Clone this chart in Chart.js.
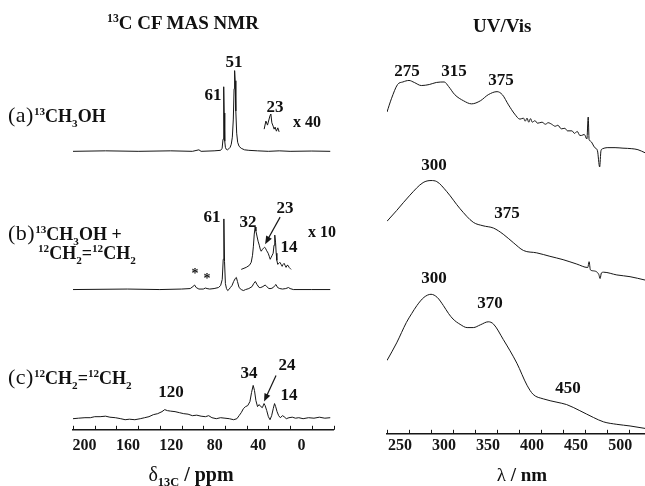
<!DOCTYPE html>
<html>
<head>
<meta charset="utf-8">
<script src="https://cdn.jsdelivr.net/npm/chart.js@4.4.1/dist/chart.umd.min.js"></script>
<style>
  html, body { margin: 0; padding: 0; background: #fff; }
  #fig { position: relative; width: 645px; height: 486px; overflow: hidden;
         font-family: "Liberation Serif", "Times New Roman", serif; color: #111; }
  #fig canvas { position: absolute; top: 0; }
  .t { position: absolute; white-space: nowrap; line-height: 1; font-weight: bold; }
  .t sup, .t sub { font-size: 0.62em; line-height: 0; }
  .t .r { font-weight: normal; }
</style>
</head>
<body>
<div id="fig">
  <canvas id="nmr" width="345" height="486" style="left:0"></canvas>
  <canvas id="uv" width="300" height="486" style="left:345px"></canvas>
</div>
<script>
// 13C CF MAS NMR spectra, [ppm, intensity a.u.]
const nmrA = [[200,0],[170,0.5],[140,0],[110,0.5],[90,0],[84,1.5],[82,0],[70,0.5],[64,1],[62.6,3],[61.8,12],[61.3,40],[61,64],[60.7,38],[60.2,10],[59.6,4],[58.8,2],[57.5,1.5],[56.5,2.5],[55.2,4],[54.2,7],[53.2,14],[52.3,32],[51.6,62],[51.1,80],[50.6,70],[50,40],[49.2,18],[48.3,9],[47,5],[45,3],[42,1.5],[38,1],[30,0.5],[20,0],[10,0.5],[0,0],[-20,0.3],[-37,0]];
const nmrA40 = [[23.9,2],[22.3,10],[20.8,6],[18.6,15],[17.7,17],[16.8,8.3],[15.6,5],[14.7,2],[13.8,4],[12.6,0],[11.3,3.3],[10.1,-0.7]];
const nmrB = [[200,0],[150,0.5],[120,0],[100,0.5],[92,1],[89.5,3],[88,4.5],[86.5,2],[84,0.5],[80,0.5],[78,1.5],[76.5,1],[74,0.5],[70,1],[66,2],[64,4],[62.5,10],[61.6,30],[61,70],[60.4,28],[59.6,6],[58.6,1],[57.5,-1],[56.4,0],[55,2],[53.5,4],[52,8],[50.5,11],[49.5,12],[48.5,8],[47,2],[45,0],[43,-1],[41,0],[38,1],[35,3],[33.5,6],[32,8],[30.5,5],[28.5,2],[27,2],[25,3],[23,4.5],[21.5,3],[19.5,1],[17.5,1],[15.5,2],[14,4],[13,5],[11.5,2],[9.5,1],[7,0.5],[4,1],[1.5,2],[0,1],[-3,0],[-20,0],[-37,0]];
const nmrB10 = [[45,0],[40.4,2],[37.5,4],[35.8,7],[34.6,14],[33.8,23],[33,35],[32.2,42],[31.5,38],[30.5,33],[29.5,28],[28.4,24],[27.5,20],[26.6,18],[25.4,20],[24.5,21],[23.5,22],[22.7,21],[21.8,19],[20.2,16],[19.2,13],[18.3,10],[17.4,12],[16.5,14],[15.6,16],[14.8,24],[14.3,30],[13.9,34],[13.4,27],[12.8,16],[12.2,9],[11.4,5],[10.3,6],[9.4,7],[8.3,5],[7.3,3],[6.4,5],[5.5,6],[4.6,4],[3.7,2],[2.8,4],[1.9,4],[0.9,2],[0,1],[-0.9,0]];
const nmrC = [[200,0],[195,0.5],[189,1],[184,1],[180,2],[175,2],[170,2.5],[166,1.5],[161,1],[156,0],[152,-1],[148,-0.5],[143,-1],[138,0],[134,1],[130,2],[126,4],[122,5],[118,7],[115.5,9],[113,8],[110,7.5],[106,7],[102,6],[98,5],[94,4.5],[90,3],[86,3.5],[82,2.5],[78,2],[75,3],[72,1],[68,0],[64,1],[60,0.5],[56,0],[52,-1],[49,0],[47,3],[45,6],[43,10],[41,12],[39,13],[37,17],[35.5,26],[34,33],[32.8,28],[31.5,18],[30,12],[28.5,14],[27,12],[25.5,11],[24,15],[23,13],[21.5,8],[20,2],[18.5,-1],[17,3],[15.5,10],[14.3,15],[13.3,12],[12,7],[10.5,3],[9,1],[7,3],[5.5,2],[3.5,0],[1,1],[-2,1.5],[-5,0.5],[-8,1],[-12,0],[-17,1],[-22,0.5],[-27,1.5],[-32,0.5],[-37,1]];

// UV/Vis spectra, [nm, absorbance a.u.]
const uvA = [[250,60],[255,73],[262,87],[268,89.5],[275,91],[281,89],[289,86],[298,87],[306,89],[315,89.5],[320,85],[327,77],[337,71],[346,68],[356,71],[365,77],[375,80],[381,77],[388,67],[395,58],[401,53],[405,54],[407,51],[409,54],[411,50],[413,53.5],[415,50],[418,51.5],[421,49],[426,50],[430,48],[433,49.5],[437,48],[441,46],[444,47],[448,43.5],[452,44],[455,41.5],[460,41.5],[463,39],[466,41],[469,37],[471,37],[474,38],[477,33.5],[478.5,55],[479.5,33],[481,31.5],[486,25],[489,22],[491.5,6],[493,22],[495,24],[500,25],[509,25],[518,24.5],[528,24],[535,23],[543,20]];
const uvB = [[250,72.7],[261,83.3],[276,98.3],[291,110.7],[300,112.7],[306.5,111.7],[318,101.7],[333,85],[348,71.7],[359,68.3],[371,66],[382,60],[393.5,51.7],[405,44],[420,41.7],[435,38.3],[450,35],[465.5,30.7],[478,27.3],[479.5,33],[481,25],[484.5,24],[490.5,20.5],[492,16.5],[493.5,22],[496,22.7],[511,20],[526,18.3],[543,15]];
const uvC = [[250,76],[261,93.3],[272,113.3],[278,122],[284,130],[292,138],[300,141],[307,138],[314,130],[320,122],[325,116.7],[333,111.5],[341,108.3],[348,108.3],[356,111],[365,114],[371,111.7],[382,96.7],[397.5,73.3],[409,51.7],[416,42.7],[427.5,38.3],[443,35],[454,32.7],[469,26.7],[484.5,20],[496,15.7],[511,13.3],[526,11.7],[543,9.3]];

const INK = '#161616';
const AREA_BOTTOM = 426;   // pixel row of the x axis line

// each trace gets its own hidden y axis; base = pixel row of its zero line
function band(base) {
  return { display: false, min: base - AREA_BOTTOM, max: base };
}

function trace(points, axis, smooth) {
  return {
    data: points.map(p => ({ x: p[0], y: p[1] })),
    yAxisID: axis,
    borderColor: INK,
    borderWidth: 1,
    pointRadius: 0,
    fill: false,
    tension: 0,
    cubicInterpolationMode: smooth ? 'monotone' : 'default'
  };
}

// short tick marks pointing up from the axis line
const innerTicks = {
  id: 'innerTicks',
  afterDraw(chart, args, opts) {
    const { ctx } = chart;
    const sx = chart.scales.x;
    const y0 = chart.chartArea.bottom;
    ctx.save();
    ctx.strokeStyle = INK;
    ctx.lineWidth = 1;
    sx.ticks.forEach(t => {
      if (t.value % opts.step !== 0) return;
      const px = Math.round(sx.getPixelForValue(t.value)) + 0.5;
      ctx.beginPath();
      ctx.moveTo(px, y0);
      ctx.lineTo(px, y0 - opts.len);
      ctx.stroke();
    });
    ctx.restore();
  }
};

// arrows pointing at a spot on a trace: tip in data units, tail as pixel offset
const peakArrows = {
  id: 'peakArrows',
  afterDatasetsDraw(chart, args, opts) {
    const { ctx } = chart;
    (opts.items || []).forEach(a => {
      const tx = chart.scales.x.getPixelForValue(a.x);
      const ty = chart.scales[a.axis].getPixelForValue(a.y);
      const sx = tx + a.dx, sy = ty + a.dy;
      const ang = Math.atan2(ty - sy, tx - sx);
      ctx.save();
      ctx.strokeStyle = INK;
      ctx.fillStyle = INK;
      ctx.lineWidth = 1.2;
      ctx.beginPath();
      ctx.moveTo(sx, sy);
      ctx.lineTo(tx - 5 * Math.cos(ang), ty - 5 * Math.sin(ang));
      ctx.stroke();
      ctx.beginPath();
      ctx.moveTo(tx, ty);
      ctx.lineTo(tx - 8 * Math.cos(ang) + 3.2 * Math.sin(ang), ty - 8 * Math.sin(ang) - 3.2 * Math.cos(ang));
      ctx.lineTo(tx - 8 * Math.cos(ang) - 3.2 * Math.sin(ang), ty - 8 * Math.sin(ang) + 3.2 * Math.cos(ang));
      ctx.closePath();
      ctx.fill();
      ctx.restore();
    });
  }
};

const tickFont = { family: '"Liberation Serif", "Times New Roman", serif', size: 16, weight: 'bold' };

function xAxis(min, max, step, labelEvery, lastLabel, offset, reverse, pad) {
  return {
    type: 'linear',
    min: min,
    max: max,
    reverse: reverse,
    grid: { display: false, drawTicks: false },
    border: { display: true, color: INK, width: 1.5 },
    ticks: {
      stepSize: step,
      autoSkip: false,
      includeBounds: false,
      maxRotation: 0,
      padding: pad,
      labelOffset: offset,
      color: INK,
      font: tickFont,
      callback: v => (v % labelEvery === 0 && v >= 0 && v <= lastLabel) ? String(v) : ''
    }
  };
}

const common = {
  responsive: false,
  animation: false,
  devicePixelRatio: 1,
  plugins: { legend: { display: false }, tooltip: { enabled: false } }
};

new Chart(document.getElementById('nmr'), {
  type: 'line',
  data: {
    datasets: [
      trace(nmrA, 'ya'),
      trace(nmrA40, 'ya40'),
      trace(nmrB, 'yb'),
      trace(nmrB10, 'yb10'),
      trace(nmrC, 'yc')
    ]
  },
  options: Object.assign({}, common, {
    layout: { padding: { left: 73, right: 11.5, top: 0, bottom: 25 } },
    plugins: Object.assign({}, common.plugins, {
      innerTicks: { step: 20, len: 4 },
      peakArrows: { items: [
        { axis: 'yb10', x: 23, y: 25, dx: 15, dy: -27 },
        { axis: 'yc', x: 24, y: 17, dx: 12, dy: -26 }
      ] }
    }),
    scales: {
      x: xAxis(-40, 200, 20, 40, 200, 11.5, true, 6),
      ya: band(150),
      ya40: band(130),
      yb: band(287),
      yb10: band(267),
      yc: band(415)
    }
  }),
  plugins: [innerTicks, peakArrows]
});

new Chart(document.getElementById('uv'), {
  type: 'line',
  data: {
    datasets: [
      trace(uvA, 'ya', true),
      trace(uvB, 'yb', true),
      trace(uvC, 'yc', true)
    ]
  },
  options: Object.assign({}, common, {
    layout: { padding: { left: 42, right: 0, top: 0, bottom: 29 } },
    plugins: Object.assign({}, common.plugins, {
      innerTicks: { step: 25, len: 4 }
    }),
    scales: {
      x: xAxis(250, 543, 25, 50, 500, 13, false, 2),
      ya: band(170),
      yb: band(290),
      yc: band(430)
    }
  }),
  plugins: [innerTicks]
});

// text placed by its baseline; Liberation Serif puts the baseline 0.8375em below the box top
const fig = document.getElementById('fig');
function note(html, x, baseline, size, align) {
  const d = document.createElement('div');
  d.className = 't';
  d.innerHTML = html;
  d.style.fontSize = size + 'px';
  d.style.top = (baseline - 0.8375 * size) + 'px';
  d.style.left = x + 'px';
  if (align === 'center') d.style.transform = 'translateX(-50%)';
  fig.appendChild(d);
}

const PAREN = '<span class="r" style="font-size:22px;letter-spacing:0.5px">';

note('<sup>13</sup>C CF MAS NMR', 107, 29, 19);
note('UV/Vis', 473, 32, 19);

note(PAREN + '(a)</span><span style="font-size:18px"><sup>13</sup>CH<sub>3</sub>OH</span>', 8, 122, 22);
note(PAREN + '(b)</span><span style="font-size:18px"><sup>13</sup>CH<sub>3</sub>OH +</span>', 8, 240, 22);
note('<sup>12</sup>CH<sub>2</sub>=<sup>12</sup>CH<sub>2</sub>', 38, 259, 18);
note(PAREN + '(c)</span><span style="font-size:18px"><sup>12</sup>CH<sub>2</sub>=<sup>12</sup>CH<sub>2</sub></span>', 8, 384, 22);

// NMR peak labels
note('51', 234, 67, 17, 'center');
note('61', 213, 100, 17, 'center');
note('23', 275, 112, 17, 'center');
note('x 40', 293, 127, 16);
note('61', 212, 222, 17, 'center');
note('32', 248, 227, 17, 'center');
note('23', 285, 213, 17, 'center');
note('14', 289, 252, 17, 'center');
note('x 10', 308, 237, 16);
note('*', 195, 279, 14, 'center');
note('*', 207, 284, 14, 'center');
note('120', 171, 397, 17, 'center');
note('34', 249, 378, 17, 'center');
note('24', 287, 370, 17, 'center');
note('14', 289, 400, 17, 'center');

// UV/Vis band labels
note('275', 407, 76, 17, 'center');
note('315', 454, 76, 17, 'center');
note('375', 501, 85, 17, 'center');
note('300', 434, 170, 17, 'center');
note('375', 507, 218, 17, 'center');
note('300', 434, 283, 17, 'center');
note('370', 490, 308, 17, 'center');
note('450', 568, 393, 17, 'center');

// axis titles
note('<span class="r">&delta;</span><sub>13C</sub> / ppm', 191, 481, 20, 'center');
note('<span class="r">&lambda;</span> / nm', 522, 481, 19, 'center');
</script>
</body>
</html>
